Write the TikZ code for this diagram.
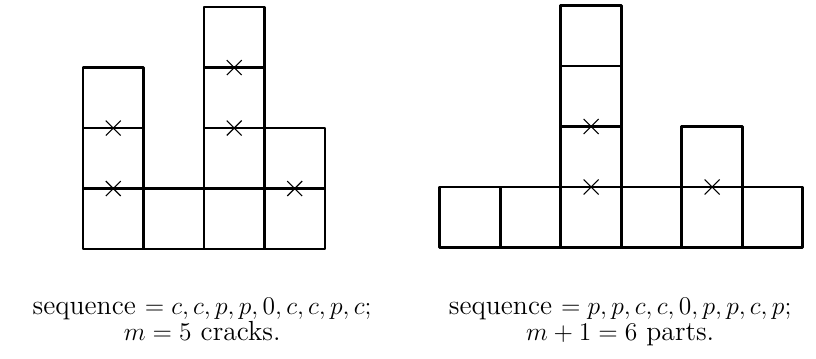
\documentclass[tikz,border=0pt]{standalone}
\usetikzlibrary{shapes.misc}
\begin{document}
\begin{tikzpicture}[x=1cm,y=1cm,
  cell/.style={line width=1.4pt, line join=round},
  crack/.style={cross out, draw, line width=0.5pt, inner sep=0pt, minimum size=0.23cm},
  caption/.style={anchor=base, inner sep=0pt, font=\fontsize{13}{15}\selectfont}]
\useasboundingbox (-1.372,-1.802) rectangle (12.116,4.116);
% left figure
\foreach \i/\h in {0/3,1/1,2/4,3/2}{
  \foreach \j in {1,...,\h}{
    \draw[cell] (\i,\j-1) rectangle (\i+1,\j);
  }
}
\node[crack] (a1) at (0.5,2) {};
\node[crack] (a2) at (0.5,1) {};
\node[crack] (a3) at (2.5,3) {};
\node[crack] (a4) at (2.5,2) {};
\node[crack] (a5) at (3.5,1) {};
% right figure
\begin{scope}[shift={(5.90,0.025)}]
\foreach \i/\h in {0/1,1/1,2/4,3/1,4/2,5/1}{
  \foreach \j in {1,...,\h}{
    \draw[cell] (\i,\j-1) rectangle (\i+1,\j);
  }
}
\node[crack] (b1) at (2.5,2) {};
\node[crack] (b2) at (2.5,1) {};
\node[crack] (b3) at (4.5,1) {};
\end{scope}
% captions
\node[caption] (t1a) at (1.97,-1.09) {sequence $=c,c,p,p,0,c,c,p,c;$};
\node[caption] (t1b) at (1.97,-1.52) {$m=5$ cracks.};
\node[caption] (t2a) at (8.88,-1.09) {sequence $=p,p,c,c,0,p,p,c,p;$};
\node[caption] (t2b) at (8.88,-1.52) {$m+1=6$ parts.};
\end{tikzpicture}
\end{document}
